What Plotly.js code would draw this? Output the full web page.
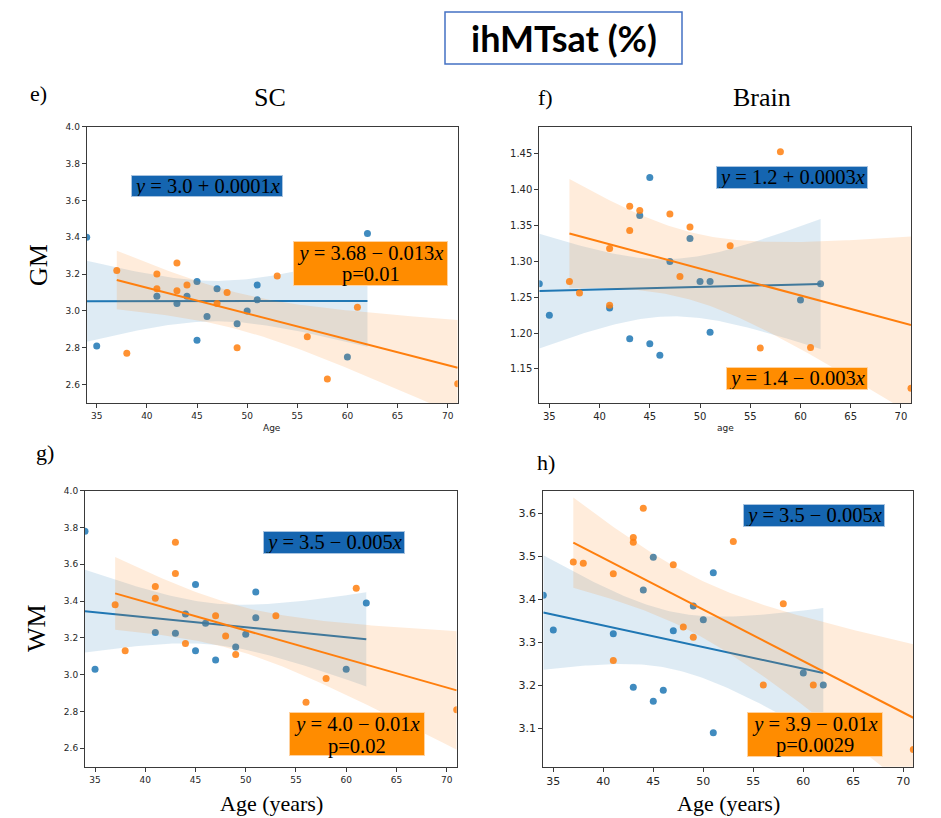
<!DOCTYPE html>
<html>
<head>
<meta charset="utf-8">
<script src="https://cdn.plot.ly/plotly-3.0.1.min.js"></script>
<style>html,body{margin:0;padding:0;background:#fff}#chart{width:941px;height:818px}</style>
</head>
<body>
<div id="chart"></div>
<script>
// ---------- DATA ----------
// Panel e) SC – GM
const eBlueAge = [34,35,41,43,44,45,45,46,47,49,50,51,51,60,62];
const eBlueVal = [3.40,2.81,3.08,3.04,3.08,3.16,2.84,2.97,3.12,2.93,3.00,3.14,3.06,2.75,3.42];
const eOrangeAge = [37,38,41,41,43,43,44,47,48,49,53,56,58,61,71];
const eOrangeVal = [3.22,2.77,3.20,3.12,3.26,3.11,3.14,3.04,3.10,2.80,3.19,2.86,2.63,3.02,2.605];
// Panel f) Brain – GM
const fBlueAge = [34,35,41,43,44,45,45,46,47,49,50,51,51,60,62];
const fBlueVal = [1.269,1.225,1.235,1.192,1.364,1.417,1.185,1.169,1.300,1.332,1.272,1.272,1.201,1.246,1.269];
const fOrangeAge = [37,38,41,41,43,43,44,47,48,49,53,56,58,61,71];
const fOrangeVal = [1.272,1.256,1.318,1.239,1.377,1.343,1.371,1.366,1.279,1.348,1.322,1.179,1.453,1.180,1.123];
// Panel g) SC – WM
const gBlueAge = [34,35,41,43,44,45,45,46,47,49,50,51,51,60,62];
const gBlueVal = [3.78,3.03,3.23,3.225,3.33,3.49,3.13,3.28,3.08,3.15,3.22,3.45,3.31,3.03,3.39];
const gOrangeAge = [37,38,41,41,43,43,44,47,48,49,53,56,58,61,71];
const gOrangeVal = [3.38,3.13,3.48,3.415,3.72,3.55,3.17,3.32,3.21,3.11,3.32,2.85,2.98,3.47,2.81];
// Panel h) Brain – WM
const hBlueAge = [34,35,41,43,44,45,45,46,47,49,50,51,51,60,62];
const hBlueVal = [3.41,3.329,3.32,3.196,3.422,3.498,3.163,3.189,3.327,3.385,3.353,3.462,3.09,3.229,3.201];
const hOrangeAge = [37,38,41,41,43,43,44,47,48,49,53,56,58,61,71];
const hOrangeVal = [3.487,3.484,3.46,3.258,3.544,3.533,3.612,3.481,3.336,3.312,3.535,3.201,3.39,3.201,3.051];

// ---------- TEXT ----------
const mainTitle = 'ihMTsat (%)';
const panelLetters = ['e)','f)','g)','h)'];
const colTitles = ['SC','Brain'];
const rowTitles = ['GM','WM'];
const xTitles = ['Age','age','Age (years)','Age (years)'];
const eqBlue = ['<i>y</i> = 3.0 + 0.0001<i>x</i>','<i>y</i> = 1.2 + 0.0003<i>x</i>','<i>y</i> = 3.5 − 0.005<i>x</i>','<i>y</i> = 3.5 − 0.005<i>x</i>'];
const eqOrange = ['<i>y</i> = 3.68 − 0.013<i>x</i>','<i>y</i> = 1.4 − 0.003<i>x</i>','<i>y</i> = 4.0 − 0.01<i>x</i>','<i>y</i> = 3.9 − 0.01<i>x</i>'];
const pOrange = ['p=0.01','','p=0.02','p=0.0029'];

// ---------- STYLE ----------
const W = 941, H = 818;
const BLUE = '#1f77b4', ORANGE = '#ff7f0e';
const BLUE_BAND = 'rgba(31,119,180,0.15)', ORANGE_BAND = 'rgba(255,127,14,0.15)';
const T_CRIT = 2.160; // t(0.975, df=13)

function px(x){return x/W;}
function py(y){return 1 - y/H;}

function regression(xs, ys){
  const n = xs.length;
  const mx = xs.reduce((a,b)=>a+b,0)/n, my = ys.reduce((a,b)=>a+b,0)/n;
  let sxx=0, sxy=0;
  for(let i=0;i<n;i++){sxx+=(xs[i]-mx)**2; sxy+=(xs[i]-mx)*(ys[i]-my);}
  const b = sxy/sxx, a = my - b*mx;
  let sse=0; for(let i=0;i<n;i++){sse+=(ys[i]-(a+b*xs[i]))**2;}
  const s = Math.sqrt(sse/(n-2));
  const x0 = Math.min(...xs), x1 = Math.max(...xs);
  const gx=[], yh=[], lo=[], hi=[];
  for(let k=0;k<=100;k++){
    const x = x0 + (x1-x0)*k/100;
    const y = a + b*x;
    const se = s*Math.sqrt(1/n + (x-mx)**2/sxx);
    gx.push(x); yh.push(y); lo.push(y - T_CRIT*se); hi.push(y + T_CRIT*se);
  }
  return {gx, yh, lo, hi};
}

const traces = [];
function addGroup(xs, ys, color, band, xa, ya){
  const r = regression(xs, ys);
  traces.push({type:'scatter', mode:'markers', x:xs, y:ys, xaxis:xa, yaxis:ya,
    marker:{color:color, size:7, opacity:0.85}, showlegend:false, hoverinfo:'skip'});
  traces.push({type:'scatter', mode:'lines', x:r.gx, y:r.yh, xaxis:xa, yaxis:ya,
    line:{color:color, width:2}, showlegend:false, hoverinfo:'skip'});
  traces.push({type:'scatter', mode:'lines', x:r.gx, y:r.lo, xaxis:xa, yaxis:ya,
    line:{width:0, color:band}, showlegend:false, hoverinfo:'skip'});
  traces.push({type:'scatter', mode:'lines', x:r.gx, y:r.hi, xaxis:xa, yaxis:ya, fill:'tonexty',
    fillcolor:band, line:{width:0, color:band}, showlegend:false, hoverinfo:'skip'});
}
const panels = [
  {bA:eBlueAge,bV:eBlueVal,oA:eOrangeAge,oV:eOrangeVal},
  {bA:fBlueAge,bV:fBlueVal,oA:fOrangeAge,oV:fOrangeVal},
  {bA:gBlueAge,bV:gBlueVal,oA:gOrangeAge,oV:gOrangeVal},
  {bA:hBlueAge,bV:hBlueVal,oA:hOrangeAge,oV:hOrangeVal}
];
panels.forEach((p,i)=>{
  const xa = i===0?'x':'x'+(i+1), ya = i===0?'y':'y'+(i+1);
  addGroup(p.bA,p.bV,BLUE,BLUE_BAND,xa,ya);
  addGroup(p.oA,p.oV,ORANGE,ORANGE_BAND,xa,ya);
});

// frame geometry in pixels [left, right, top, bottom]
const boxes = [
  [86.7,457.7,126.7,403],
  [539.3,911,126.7,403.3],
  [85,456.7,490.7,766.7],
  [543.3,913.3,490.7,766.7]
];
const yRanges = [[2.5,4.0],[1.102,1.488],[2.5,4.0],[3.011,3.653]];
const yDticks = [[2.6,0.2,'.1f'],[1.15,0.05,'.2f'],[2.6,0.2,'.1f'],[3.1,0.1,'.1f']];
const tickSizes = [9,10,9,11];

const layout = {width:W, height:H, margin:{l:0,r:0,t:0,b:0}, paper_bgcolor:'#fff', plot_bgcolor:'#fff',
  showlegend:false, annotations:[], shapes:[]};

boxes.forEach((b,i)=>{
  const sfx = i===0?'':String(i+1);
  const axCommon = {showline:true, mirror:true, linecolor:'#3a3a3a', linewidth:1, ticks:'outside', ticklen:4,
    tickcolor:'#3a3a3a', showgrid:false, zeroline:false,
    tickfont:{family:'DejaVu Sans', size:tickSizes[i], color:'#262626'}};
  layout['xaxis'+sfx] = Object.assign({}, axCommon, {domain:[px(b[0]),px(b[1])], range:[34,71],
    tick0:35, dtick:5, anchor:'y'+sfx});
  layout['yaxis'+sfx] = Object.assign({}, axCommon, {domain:[py(b[3]),py(b[2])], range:yRanges[i],
    tick0:yDticks[i][0], dtick:yDticks[i][1], tickformat:yDticks[i][2], anchor:'x'+sfx});
});

// equation boxes: [x0, y0, w, h]
const blueBoxes = [[130.7,175,152,22],[716,166,152,23],[263,530.7,142,23],[742.7,504.3,142,23]];
const orangeBoxes = [[293.3,240.7,155,45],[726,366.7,142,23],[289.3,712.3,136,44],[747,711.7,136,45]];
const EQ_FONT = {family:'Liberation Serif', size:20.5, color:'#000'};
function eqAnn(text, bx, bg, border, twoLine){
  return {xref:'paper', yref:'paper', x:px(bx[0]), y:py(bx[1]), xanchor:'left', yanchor:'top',
    text:text, showarrow:false, bgcolor:bg, bordercolor:border, borderwidth:1, borderpad:0,
    width:bx[2]-2, height:bx[3]-2, align:'center', valign: twoLine ? 'top' : 'middle',
    font:EQ_FONT};
}
for(let i=0;i<4;i++){
  layout.annotations.push(eqAnn(eqBlue[i], blueBoxes[i], '#1565b0', '#a9c4e0', false));
  const two = pOrange[i] !== '';
  layout.annotations.push(eqAnn(eqOrange[i], orangeBoxes[i], '#ff8c00', '#ffd2a0', two));
  if(two){
    const b = orangeBoxes[i];
    layout.annotations.push({xref:'paper', yref:'paper', x:px(b[0]+b[2]/2), y:py(b[1]+34), xanchor:'center', yanchor:'middle',
      text:pOrange[i], showarrow:false, font:EQ_FONT});
  }
}

// title box
layout.shapes.push({type:'rect', xref:'paper', yref:'paper', x0:px(445), x1:px(682), y0:py(64), y1:py(12),
  line:{color:'#4472c4', width:1.5}, fillcolor:'rgba(0,0,0,0)'});
layout.annotations.push({xref:'paper', yref:'paper', x:px(563.5), y:py(38), xanchor:'center', yanchor:'middle',
  text:'<b>'+mainTitle+'</b>', showarrow:false, font:{family:'Lato', size:36, color:'#000'}});

const serif = 'Liberation Serif';
function txt(t, x, y, size, extra){
  return Object.assign({xref:'paper', yref:'paper', x:px(x), y:py(y), xanchor:'center', yanchor:'middle',
    text:t, showarrow:false, font:{family:serif, size:size, color:'#000'}}, extra||{});
}
layout.annotations.push(txt(panelLetters[0], 38, 93, 22));
layout.annotations.push(txt(panelLetters[1], 545, 98, 22));
layout.annotations.push(txt(panelLetters[2], 45, 452, 22));
layout.annotations.push(txt(panelLetters[3], 546, 462, 22));
layout.annotations.push(txt(colTitles[0], 270, 98, 26));
layout.annotations.push(txt(colTitles[1], 762, 98, 26));
layout.annotations.push(txt(rowTitles[0], 38, 265, 26, {textangle:-90}));
layout.annotations.push(txt(rowTitles[1], 36, 628, 26, {textangle:-90}));
// x-axis titles
layout.annotations.push(txt(xTitles[0], 272, 428, 9, {font:{family:'DejaVu Sans', size:9, color:'#222'}}));
layout.annotations.push(txt(xTitles[1], 725, 428, 9, {font:{family:'DejaVu Sans', size:9, color:'#222'}}));
layout.annotations.push(txt(xTitles[2], 271, 803, 22));
layout.annotations.push(txt(xTitles[3], 728, 803, 22));

Plotly.newPlot('chart', traces, layout, {staticPlot:true});
</script>
</body>
</html>
